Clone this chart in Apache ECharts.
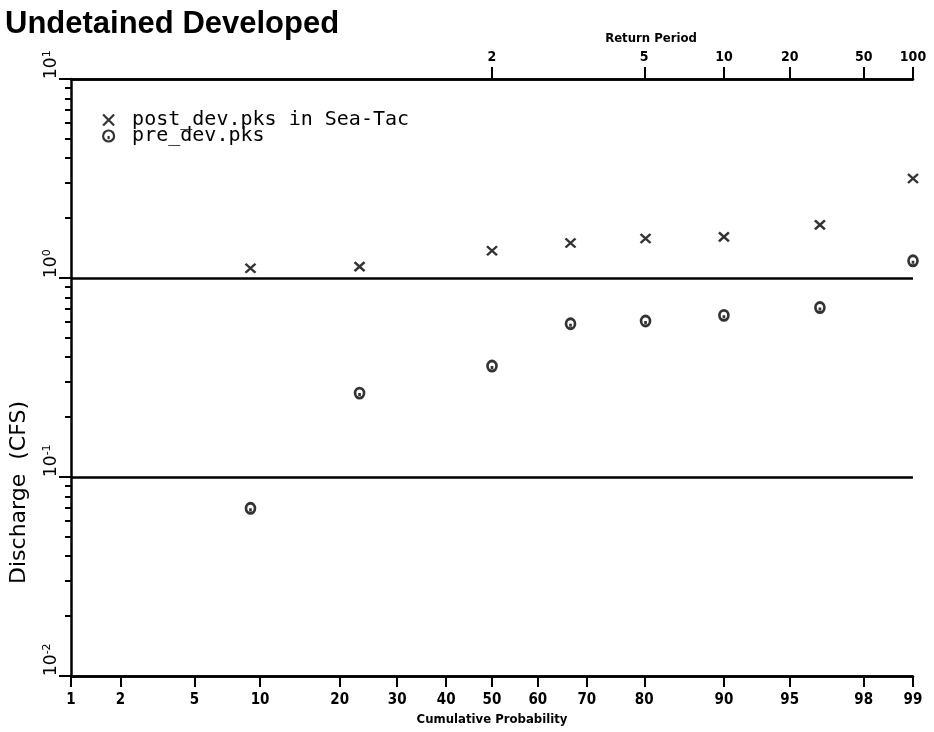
<!DOCTYPE html>
<html>
<head>
<meta charset="utf-8">
<script src="https://cdn.jsdelivr.net/npm/echarts@6/dist/echarts.min.js"></script>
<style>
  html, body { margin: 0; background: #fff; }
  #main { width: 934px; height: 732px; }
</style>
</head>
<body>
<div id="main"></div>
<script>
// tick labels
const probTicks = [1, 2, 5, 10, 20, 30, 40, 50, 60, 70, 80, 90, 95, 98, 99];
const returnPeriods = [2, 5, 10, 20, 50, 100];
const decades = [0.01, 0.1, 1, 10];

// plotted peaks (cumulative probability in %, discharge in cfs)
const probPoints = [9.1, 23.2, 50, 66.8, 80.2, 90, 96.5, 99];
const postDev = [1.12, 1.14, 1.37, 1.50, 1.58, 1.61, 1.85, 3.16];
const preDev = [0.0696, 0.264, 0.361, 0.589, 0.608, 0.649, 0.71, 1.22];

// normal probability scale: p -> standard normal quantile
function probit(p) {
  const q = p < 0.5 ? p : 1 - p;
  const t = Math.sqrt(-2 * Math.log(q));
  const z = t - (2.515517 + 0.802853 * t + 0.010328 * t * t) /
    (1 + 1.432788 * t + 0.189269 * t * t + 0.001308 * t * t * t);
  return p < 0.5 ? -z : z;
}

const zTicks = probTicks.map(p => probit(p / 100));
const zReturn = returnPeriods.map(T => probit(1 - 1 / T));
const zMin = zTicks[0];
const zMax = zTicks[zTicks.length - 1];

const minorTicks = [];
decades.slice(0, 3).forEach(d => {
  for (let k = 2; k <= 9; k++) minorTicks.push(+(k * d).toPrecision(3));
});

function nearestLabel(v, zs, labels) {
  let best = 0;
  zs.forEach((z, i) => { if (Math.abs(z - v) < Math.abs(zs[best] - v)) best = i; });
  return String(labels[best]);
}

const crossPath = 'path://M0,0L10,10M10,0L0,10';
const ringPath = 'path://M0,5A5,5,0,1,1,10,5A5,5,0,1,1,0,5ZM5,5L5,8';
const tickFont = "'DejaVu Sans Condensed', 'Liberation Sans Narrow', sans-serif";
const black = { color: '#000', width: 2.5 };

const chart = echarts.init(document.getElementById('main'));

const option = {
  animation: false,
  backgroundColor: '#fff',
  title: {
    text: 'Undetained Developed',
    left: 5,
    top: 9,
    padding: 0,
    textStyle: { fontFamily: 'Liberation Sans', fontWeight: 'bold', fontSize: 31, color: '#000' }
  },
  legend: {
    orient: 'vertical',
    left: 97,
    top: 105,
    itemWidth: 11,
    itemHeight: 11,
    itemGap: -4,
    itemStyle: { color: 'transparent', borderColor: '#000', borderWidth: 2.2 },
    textStyle: { fontFamily: 'DejaVu Sans Mono', fontSize: 20, color: '#000', padding: [0, 0, 0, 13] },
    data: [
      { name: 'post_dev.pks in Sea-Tac', icon: crossPath },
      { name: 'pre_dev.pks', icon: ringPath }
    ]
  },
  grid: { left: 69, right: 21, top: 79, bottom: 56 },
  xAxis: [
    {
      type: 'value',
      position: 'bottom',
      min: zMin,
      max: zMax,
      name: 'Cumulative Probability',
      nameLocation: 'middle',
      nameGap: 34,
      nameTextStyle: { fontFamily: tickFont, fontWeight: 'bold', fontSize: 13, color: '#000' },
      axisLine: { onZero: false, lineStyle: black },
      axisTick: { customValues: zTicks, length: 11, lineStyle: { color: '#000', width: 2 } },
      axisLabel: {
        customValues: zTicks,
        margin: 17,
        fontFamily: tickFont,
        fontWeight: 'bold',
        fontSize: 15,
        color: '#000',
        formatter: v => nearestLabel(v, zTicks, probTicks)
      },
      splitLine: { show: false }
    },
    {
      type: 'value',
      position: 'top',
      min: zMin,
      max: zMax,
      name: 'Return Period',
      nameLocation: 'middle',
      nameGap: 31,
      nameTextStyle: { fontFamily: tickFont, fontWeight: 'bold', fontSize: 13, color: '#000', padding: [0, 0, 0, 318] },
      axisLine: { onZero: false, lineStyle: black },
      axisTick: { customValues: zReturn, length: 12, lineStyle: { color: '#000', width: 2 } },
      axisLabel: {
        customValues: zReturn,
        margin: 15,
        fontFamily: tickFont,
        fontWeight: 'bold',
        fontSize: 14,
        color: '#000',
        formatter: v => nearestLabel(v, zReturn, returnPeriods)
      },
      splitLine: { show: false }
    }
  ],
  yAxis: [
    {
      type: 'log',
      logBase: 10,
      position: 'left',
      min: 0.01,
      max: 10,
      name: 'Discharge  (CFS)',
      nameLocation: 'middle',
      nameGap: 41,
      nameTextStyle: { fontFamily: 'DejaVu Sans', fontSize: 22, color: '#000', padding: [0, 230, 0, 0] },
      axisLine: { onZero: false, lineStyle: black },
      axisTick: { customValues: decades, length: 12, lineStyle: { color: '#000', width: 2 } },
      axisLabel: {
        customValues: decades,
        rotate: 90,
        align: 'left',
        verticalAlign: 'bottom',
        margin: 10,
        formatter: v => '{b|10}{s|' + Math.round(Math.log10(v)) + '}',
        rich: {
          b: { fontFamily: 'DejaVu Sans', fontSize: 17, lineHeight: 19, color: '#000' },
          s: { fontFamily: 'DejaVu Sans', fontSize: 11, lineHeight: 11, verticalAlign: 'top', color: '#000' }
        }
      },
      splitLine: { show: true, lineStyle: black }
    },
    {
      type: 'log',
      logBase: 10,
      position: 'left',
      min: 0.01,
      max: 10,
      axisLine: { show: false, onZero: false },
      axisTick: { customValues: minorTicks, length: 6, lineStyle: { color: '#000', width: 2 } },
      axisLabel: { show: false },
      splitLine: { show: false }
    }
  ],
  series: [
    {
      type: 'scatter',
      name: 'post_dev.pks in Sea-Tac',
      xAxisIndex: 0,
      yAxisIndex: 0,
      symbol: crossPath,
      symbolSize: [10, 9],
      itemStyle: { color: 'transparent', borderColor: '#000', borderWidth: 2.4 },
      data: probPoints.map((p, i) => [probit(p / 100), postDev[i]])
    },
    {
      type: 'scatter',
      name: 'pre_dev.pks',
      xAxisIndex: 0,
      yAxisIndex: 0,
      symbol: ringPath,
      symbolSize: [9, 10],
      itemStyle: { color: 'transparent', borderColor: '#000', borderWidth: 2.8 },
      data: probPoints.map((p, i) => [probit(p / 100), preDev[i]])
    }
  ]
};

chart.setOption(option);
</script>
</body>
</html>
